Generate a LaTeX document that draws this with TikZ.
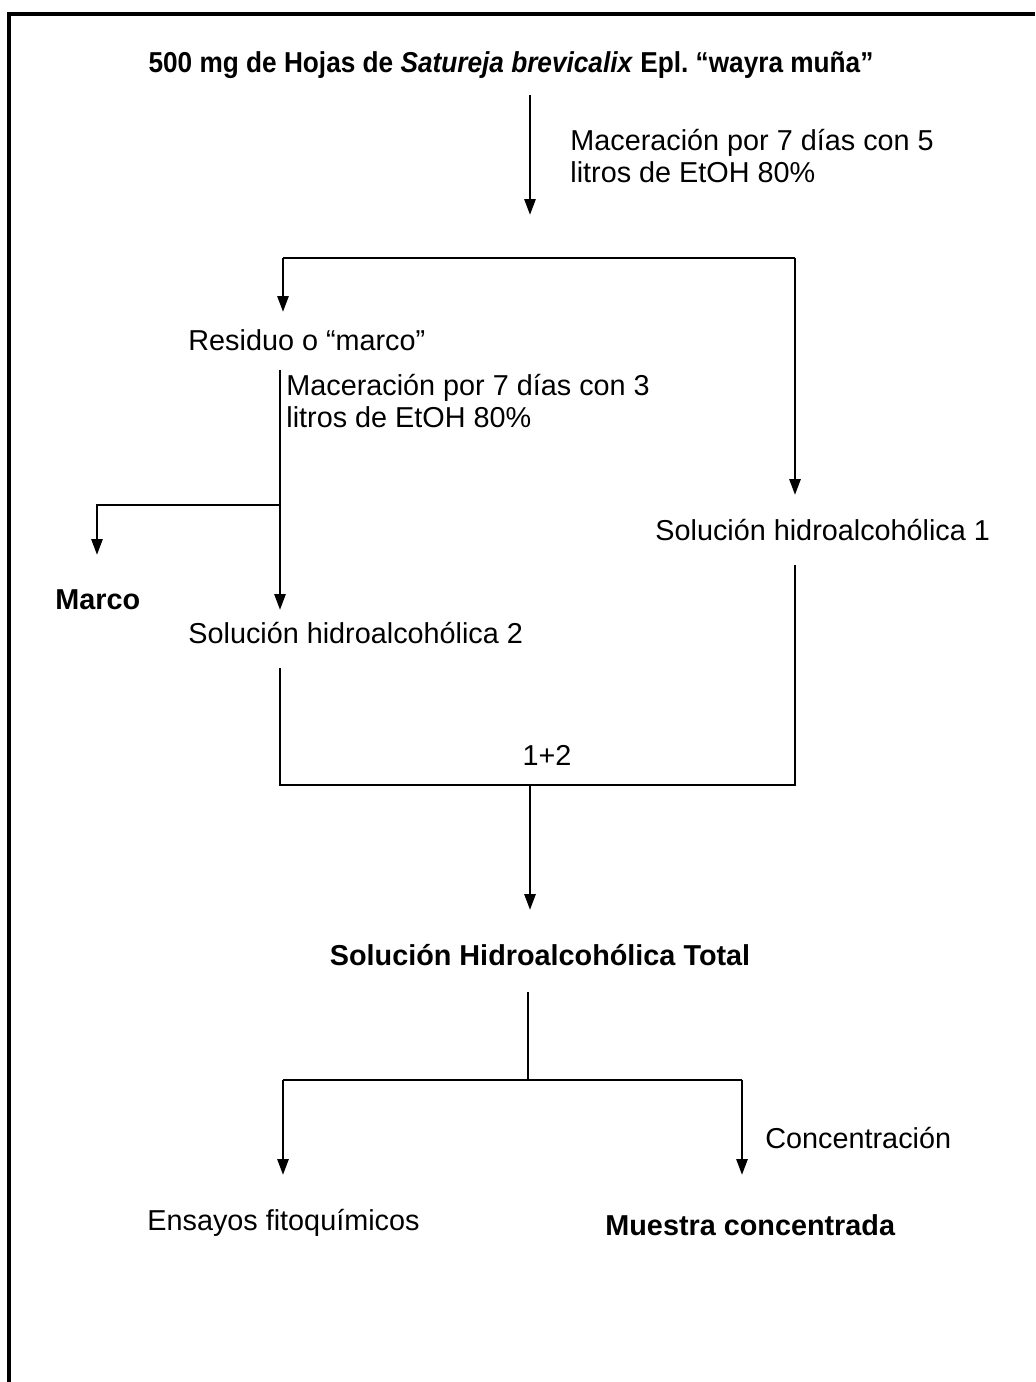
\documentclass[tikz,border=0pt]{standalone}
\usepackage{fontspec}
\setmainfont{Liberation Sans}
\newfontfamily\titulofont[FakeStretch=0.91]{Liberation Sans}
\usetikzlibrary{arrows.meta}

\begin{document}
\begin{tikzpicture}[x=0.5pt, y=-0.5pt,
    flecha/.style={-{Triangle[length=8pt,width=5.5pt]}, line width=1.4pt},
    linea/.style={line width=1.4pt},
    texto/.style={inner sep=0pt, font=\fontsize{14.4}{16}\selectfont},
    negrita/.style={inner sep=0pt, font=\fontsize{14.4}{16}\selectfont\bfseries},
    izq/.style={anchor=west, align=left}]
    \useasboundingbox (0,0) rectangle (1035,1382);
    % marco de la figura
    \draw[line width=1.6pt] (9,1382) -- (9,14) -- (1035,14);

    \node[negrita, font=\fontsize{14.4}{16}\titulofont\bfseries] (hojas) at (511,65) {500 mg de Hojas de \textit{Satureja brevicalix} Epl.\ “wayra muña”};
    \node[texto, izq] (mac1) at (570,156) {Maceración por 7 días con 5\\litros de EtOH 80\%};
    \node[texto, izq] (residuo) at (188,340) {Residuo o “marco”};
    \node[texto, izq] (mac2) at (286,401) {Maceración por 7 días con 3\\litros de EtOH 80\%};
    \node[negrita, izq] (marco) at (55,600) {Marco};
    \node[texto, izq] (sol2) at (188,633) {Solución hidroalcohólica 2};
    \node[texto, izq] (sol1) at (655,530) {Solución hidroalcohólica 1};
    \node[texto] (suma) at (547,755) {1+2};
    \node[negrita] (total) at (540,955) {Solución Hidroalcohólica Total};
    \node[texto, izq] (conc) at (765,1138) {Concentración};
    \node[texto, izq] (ensayos) at (147,1223) {Ensayos fitoquímicos};
    \node[negrita, izq] (muestra) at (605,1225) {Muestra concentrada};

    % puntos de las flechas
    \coordinate (h1) at (530,95);
    \coordinate (h2) at (530,215);
    \coordinate (d1) at (283,258);
    \coordinate (d2) at (795,258);
    \coordinate (d3) at (283,312);
    \coordinate (d4) at (795,495);
    \coordinate (r1) at (280,370);
    \coordinate (r2) at (280,505);
    \coordinate (r3) at (280,610);
    \coordinate (m1) at (97,505);
    \coordinate (m2) at (97,555);
    \coordinate (u1) at (280,668);
    \coordinate (u2) at (280,785);
    \coordinate (u3) at (795,785);
    \coordinate (u4) at (795,565);
    \coordinate (u5) at (530,785);
    \coordinate (u6) at (530,910);
    \coordinate (t1) at (528,992);
    \coordinate (t2) at (528,1080);
    \coordinate (e1) at (283,1080);
    \coordinate (e2) at (742,1080);
    \coordinate (e3) at (283,1175);
    \coordinate (e4) at (742,1175);

    \draw[flecha] (h1) -- (h2);
    \draw[linea] (d1) -- (d2);
    \draw[flecha] (d1) -- (d3);
    \draw[flecha] (d2) -- (d4);
    \draw[flecha] (r1) -- (r3);
    \draw[flecha] (r2) -- (m1) -- (m2);
    \draw[linea] (u1) -- (u2) -- (u3) -- (u4);
    \draw[flecha] (u5) -- (u6);
    \draw[linea] (t1) -- (t2);
    \draw[linea] (e1) -- (e2);
    \draw[flecha] (e1) -- (e3);
    \draw[flecha] (e2) -- (e4);
\end{tikzpicture}
\end{document}
